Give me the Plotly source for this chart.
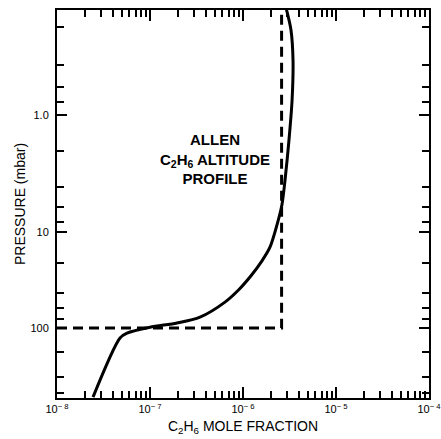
import numpy as np
import plotly.graph_objects as go

# ---- data ----
# C2H6 mole fraction (solid curve) vs pressure in mbar
SOLID_X = [2.90e-6, 3.28e-6, 3.45e-6, 3.37e-6, 3.12e-6, 2.83e-6, 2.62e-6, 2.32e-6,
           1.95e-6, 1.60e-6, 1.25e-6, 9.0e-7, 6.4e-7, 3.45e-7, 1.95e-7, 1.0e-7, 5.66e-8,
           4.76e-8, 2.44e-8]
SOLID_P = [0.14, 0.21, 0.365, 0.77, 1.62, 3.5, 5.75, 8.5,
           14, 19, 26, 37, 51, 76, 88, 98, 116,
           133, 672]

# Dashed step profile
DASH_X = [1.0e-8, 2.6e-6, 2.6e-6]
DASH_P = [100, 100, 0.14]

# Pressure axis: altitude-linear scale, calibration pressure (mbar) -> height units
CAL_P = [0.1, 0.2, 0.4, 0.6, 0.8, 1, 2, 4, 6, 8, 10, 20, 40, 60, 80, 100, 200, 400, 600, 1000]
CAL_H = [409, 371, 333, 311, 296, 283, 247, 211, 191, 176, 166, 135, 105, 90, 79, 70, 46, 21, 5, -13]

Y_MAJOR = [1, 10, 100]
Y_MAJOR_TEXT = ["1.0", "10", "100"]
Y_MINOR = [0.2, 0.4, 0.6, 0.8, 2, 4, 6, 8, 20, 40, 60, 80, 200, 400, 600]
Y_RANGE_P = [690, 0.146]

# Mole-fraction axis (logarithmic)
X_MAJOR = [1e-8, 1e-7, 1e-6, 1e-5, 1e-4]
X_MAJOR_TEXT = ["10<sup>\u2212 8</sup>", "10<sup>\u2212 7</sup>", "10<sup>\u2212 6</sup>",
                "10<sup>\u2212 5</sup>", "10<sup>\u2212 4</sup>"]
X_MINOR = [m * 10.0 ** k for k in range(-8, -4) for m in range(2, 10)]
X_RANGE = [1e-8, 1e-4]


def height(p):
    h = np.interp(np.log10(np.asarray(p, dtype=float)), np.log10(CAL_P), CAL_H)
    return [float(v) for v in np.atleast_1d(h)]


def lg(v):
    return [float(t) for t in np.log10(np.asarray(v, dtype=float))]


FONT = "Liberation Sans, Arial, Helvetica, sans-serif"

fig = go.Figure()
fig.add_trace(go.Scatter(x=lg(DASH_X), y=height(DASH_P), mode="lines",
                         line=dict(color="black", width=3, dash="10px,6px"),
                         showlegend=False, hoverinfo="skip"))
fig.add_trace(go.Scatter(x=lg(SOLID_X), y=height(SOLID_P), mode="lines",
                         line=dict(color="black", width=3, shape="spline", smoothing=0.8),
                         showlegend=False, hoverinfo="skip"))

fig.update_layout(
    width=441, height=439,
    margin=dict(l=57, r=12, t=10, b=41),
    paper_bgcolor="white", plot_bgcolor="white",
    font=dict(family=FONT, color="black", size=11),
    xaxis=dict(
        range=lg(X_RANGE),
        tickmode="array", tickvals=lg(X_MAJOR), ticktext=X_MAJOR_TEXT,
        ticks="inside", ticklen=11, tickwidth=2, tickcolor="black",
        minor=dict(tickmode="array", tickvals=lg(X_MINOR), ticks="inside",
                   ticklen=7, tickwidth=2, tickcolor="black", showgrid=False),
        showline=True, linewidth=2, linecolor="black", mirror="allticks",
        showgrid=False, zeroline=False, automargin=False,
        ticklabeloverflow="allow",
        tickfont=dict(size=11, color="black"),
        title=dict(text="C<sub>2</sub>H<sub>6</sub> MOLE FRACTION",
                   font=dict(size=14, color="black"), standoff=7),
    ),
    yaxis=dict(
        range=height(Y_RANGE_P),
        tickmode="array", tickvals=height(Y_MAJOR), ticktext=Y_MAJOR_TEXT,
        ticks="inside", ticklen=10, tickwidth=2, tickcolor="black",
        minor=dict(tickmode="array", tickvals=height(Y_MINOR), ticks="inside",
                   ticklen=7, tickwidth=2, tickcolor="black", showgrid=False),
        showline=True, linewidth=2, linecolor="black", mirror="allticks",
        showgrid=False, zeroline=False, automargin=False,
        tickfont=dict(size=11, color="black"),
        ticklabelstandoff=4,
        title=dict(text="PRESSURE (mbar)", font=dict(size=14, color="black"), standoff=2),
    ),
    annotations=[dict(
        text="<b>ALLEN<br>C<sub>2</sub>H<sub>6</sub> ALTITUDE<br>PROFILE</b>",
        xref="paper", yref="paper", x=0.425, y=0.615, xanchor="center", yanchor="middle",
        showarrow=False, align="center", font=dict(size=15, family=FONT, color="black"),
    )],
)

fig.write_html("out.html")
